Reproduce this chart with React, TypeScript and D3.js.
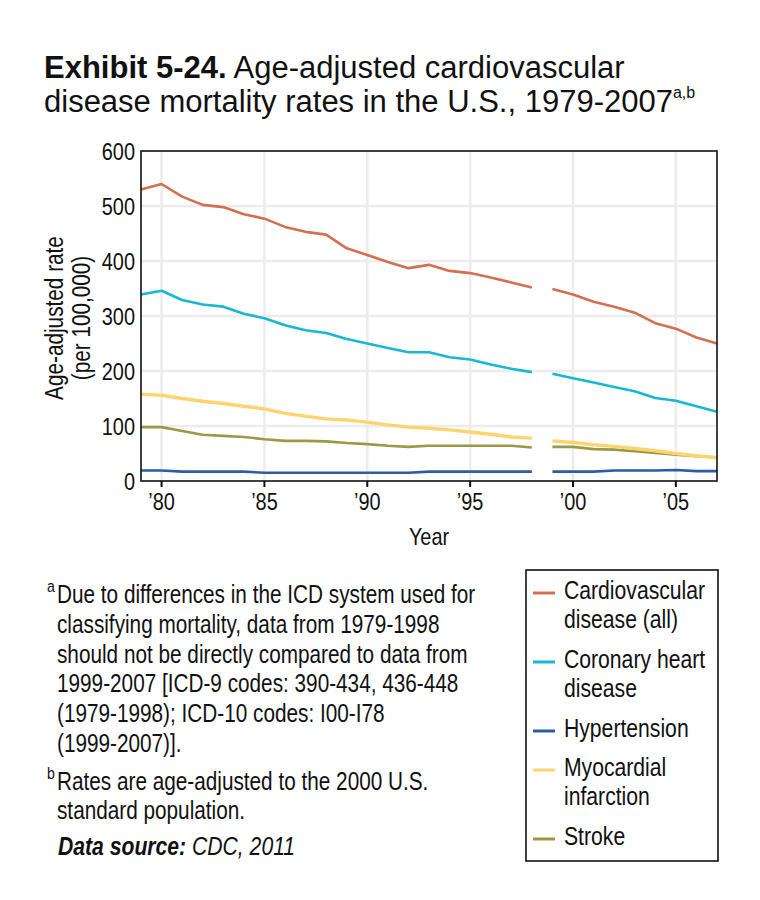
import * as d3 from "d3";
import type { ReactNode } from "react";

// Age-adjusted mortality rates per 100,000, 1979-2007
const years = [1979, 1980, 1981, 1982, 1983, 1984, 1985, 1986, 1987, 1988, 1989, 1990, 1991, 1992, 1993, 1994, 1995, 1996, 1997, 1998, 1999, 2000, 2001, 2002, 2003, 2004, 2005, 2006, 2007];
const cvd = [530, 540, 517, 502, 498, 485, 477, 462, 453, 448, 423, 411, 398, 387, 393, 382, 378, 370, 361, 352, 349, 339, 326, 317, 306, 287, 277, 261, 250];
const chd = [339, 346, 329, 321, 317, 304, 296, 283, 274, 269, 258, 250, 242, 234, 234, 225, 221, 212, 204, 198, 195, 187, 179, 171, 163, 151, 146, 136, 126];
const hyp = [19, 19, 17, 17, 17, 17, 15, 15, 15, 15, 15, 15, 15, 15, 17, 17, 17, 17, 17, 17, 17, 17, 17, 19, 19, 19, 20, 18, 18];
const mi = [158, 156, 150, 145, 141, 136, 131, 123, 118, 113, 111, 107, 102, 98, 96, 93, 89, 85, 80, 78, 73, 70, 66, 63, 59, 55, 50, 46, 42];
const stroke = [98, 98, 91, 84, 82, 80, 76, 73, 73, 72, 69, 67, 64, 62, 64, 64, 64, 64, 64, 61, 62, 62, 58, 57, 54, 51, 48, 45, 43];

// ICD-9 data ends in 1998, ICD-10 starts in 1999
const lastIcd9Year = 1998;

const xTicks = [1980, 1985, 1990, 1995, 2000, 2005];
const xTickLabels = ["’80", "’85", "’90", "’95", "’00", "’05"];
const yTicks = [0, 100, 200, 300, 400, 500, 600];

const series = [
  { key: "stroke", values: stroke, color: "#9a9a46", width: 2.6 },
  { key: "hyp", values: hyp, color: "#2f5aa6", width: 2.6 },
  { key: "mi", values: mi, color: "#ffd36e", width: 3.4 },
  { key: "chd", values: chd, color: "#17b8d3", width: 2.6 },
  { key: "cvd", values: cvd, color: "#d2704f", width: 2.6 },
];

const legendItems = [
  { lines: ["Cardiovascular", "disease (all)"], color: "#d2704f" },
  { lines: ["Coronary heart", "disease"], color: "#17b8d3" },
  { lines: ["Hypertension"], color: "#2f5aa6" },
  { lines: ["Myocardial", "infarction"], color: "#ffd36e" },
  { lines: ["Stroke"], color: "#9a9a46" },
];

const footA = [
  "Due to differences in the ICD system used for",
  "classifying mortality, data from 1979-1998",
  "should not be directly compared to data from",
  "1999-2007 [ICD-9 codes: 390-434, 436-448",
  "(1979-1998); ICD-10 codes: I00-I78",
  "(1999-2007)].",
];
const footB = ["Rates are age-adjusted to the 2000 U.S.", "standard population."];

const font = "'Liberation Sans', Arial, Helvetica, sans-serif";
const SQUEEZE = 0.83; // fake a condensed face

const plot = { left: 141, right: 717, top: 151, bottom: 481 };

// condensed text: Liberation Sans squeezed horizontally
function NText(props: {
  x: number;
  y: number;
  size: number;
  anchor?: "start" | "middle" | "end";
  rotate?: number;
  dy?: string;
  children: ReactNode;
  style?: any;
}) {
  const rot = props.rotate ? ` rotate(${props.rotate})` : "";
  return (
    <text
      transform={`translate(${props.x},${props.y})${rot} scale(${SQUEEZE},1)`}
      fontFamily={font}
      fontSize={props.size}
      textAnchor={props.anchor || "start"}
      dy={props.dy}
      fill="#111"
      style={props.style}
    >
      {props.children}
    </text>
  );
}

export default function App() {
  const x = d3.scaleLinear().domain([1979, 2007]).range([plot.left, plot.right]);
  const y = d3.scaleLinear().domain([0, 600]).range([plot.bottom, plot.top]);

  const line = d3
    .line<[number, number]>()
    .x((d) => x(d[0]))
    .y((d) => y(d[1]));

  const segments = (values: number[]) => {
    const pts = years.map((yr, i) => [yr, values[i]] as [number, number]);
    return [pts.filter((p) => p[0] <= lastIcd9Year), pts.filter((p) => p[0] > lastIcd9Year)];
  };

  // legend placement
  let ly = 599;
  const legendRows = legendItems.map((item) => {
    const row = { ...item, y: ly };
    ly += item.lines.length === 1 ? 39 : 69;
    return row;
  });

  return (
    <svg
      width={760}
      height={900}
      style={{ position: "absolute", left: 0, top: 0, background: "#fff" }}
    >
      {/* title */}
      <text x={44} y={78} fontFamily={font} fontSize={31} fill="#111">
        <tspan fontWeight="bold">Exhibit 5-24.</tspan>
        <tspan> Age-adjusted cardiovascular</tspan>
      </text>
      <text x={44} y={112} fontFamily={font} fontSize={31} fill="#111">
        disease mortality rates in the U.S., 1979-2007
        <tspan fontSize={16} dy={-14}>a,b</tspan>
      </text>

      {/* grid */}
      <g stroke="#ececec" strokeWidth={2.5}>
        {yTicks.slice(1, -1).map((t) => (
          <line key={"gy" + t} x1={plot.left} x2={plot.right} y1={y(t)} y2={y(t)} />
        ))}
        {xTicks.map((t) => (
          <line key={"gx" + t} x1={x(t)} x2={x(t)} y1={plot.top} y2={plot.bottom} />
        ))}
      </g>

      {/* series */}
      <g fill="none" strokeLinejoin="round">
        {series.map((s) =>
          segments(s.values).map((seg, j) => (
            <path key={s.key + j} d={line(seg) || ""} stroke={s.color} strokeWidth={s.width} />
          ))
        )}
      </g>

      {/* frame */}
      <rect
        x={plot.left}
        y={plot.top}
        width={plot.right - plot.left}
        height={plot.bottom - plot.top}
        fill="none"
        stroke="#111"
        strokeWidth={1.6}
      />

      {/* x axis */}
      {xTicks.map((t, i) => (
        <g key={"xt" + t}>
          <line x1={x(t)} x2={x(t)} y1={plot.bottom} y2={plot.bottom + 6} stroke="#111" strokeWidth={2} />
          <NText x={x(t)} y={510} size={24} anchor="middle">
            {xTickLabels[i]}
          </NText>
        </g>
      ))}
      <NText x={(plot.left + plot.right) / 2} y={545} size={24} anchor="middle">
        Year
      </NText>

      {/* y axis */}
      {yTicks.map((t) => (
        <NText key={"yt" + t} x={135} y={y(t)} size={24} anchor="end" dy="0.36em">
          {t}
        </NText>
      ))}
      <NText x={63} y={(plot.top + plot.bottom) / 2 + 2} size={25} anchor="middle" rotate={-90}>
        Age-adjusted rate
      </NText>
      <NText x={90} y={(plot.top + plot.bottom) / 2 + 2} size={25} anchor="middle" rotate={-90}>
        (per 100,000)
      </NText>

      {/* footnotes */}
      <NText x={47} y={592} size={17}>a</NText>
      {footA.map((l, i) => (
        <NText key={"fa" + i} x={57} y={603 + i * 29.8} size={25}>
          {l}
        </NText>
      ))}
      <NText x={47} y={779} size={17}>b</NText>
      {footB.map((l, i) => (
        <NText key={"fb" + i} x={57} y={790 + i * 28.5} size={25}>
          {l}
        </NText>
      ))}
      <NText x={58} y={855} size={25.5} style={{ fontStyle: "italic" }}>
        <tspan fontWeight="bold">Data source:</tspan>
        <tspan> CDC, 2011</tspan>
      </NText>

      {/* legend */}
      <rect x={526} y={570} width={192} height={291} fill="none" stroke="#111" strokeWidth={1.6} />
      {legendRows.map((r) => (
        <g key={r.lines[0]}>
          <line x1={533} x2={555} y1={r.y - 6} y2={r.y - 6} stroke={r.color} strokeWidth={3} />
          {r.lines.map((l, i) => (
            <NText key={l} x={564} y={r.y + i * 29} size={25.5}>
              {l}
            </NText>
          ))}
        </g>
      ))}
    </svg>
  );
}
